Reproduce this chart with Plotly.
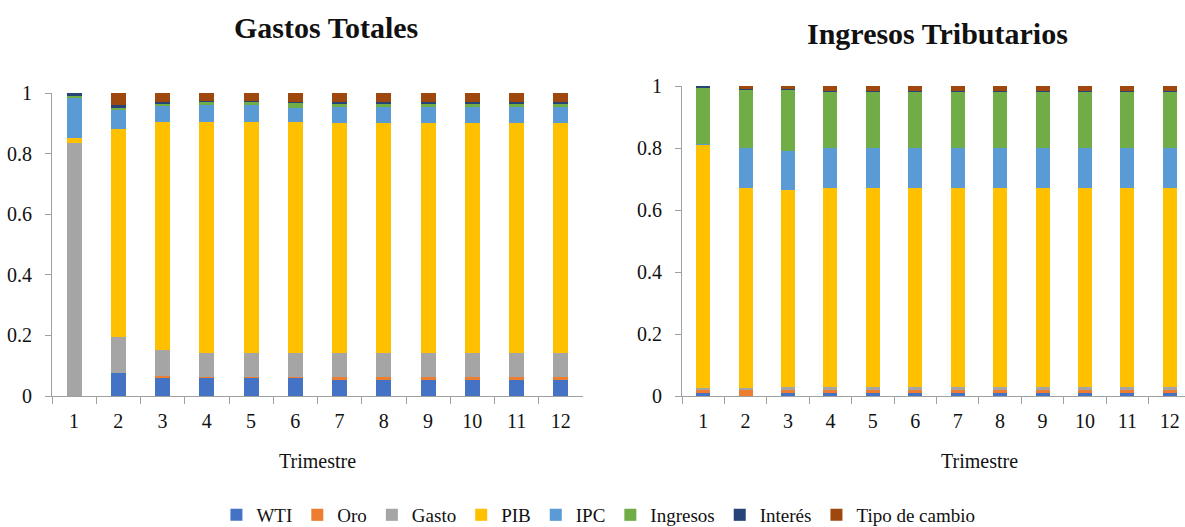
import plotly.graph_objects as go

W, H = 1185, 527

trimestres = [str(i) for i in range(1, 13)]
series_names = ["WTI", "Oro", "Gasto", "PIB", "IPC", "Ingresos", "Interés", "Tipo de cambio"]
colors = ["#4472C4", "#ED7D31", "#A5A5A5", "#FFC000", "#5B9BD5", "#70AD47", "#264478", "#9E480E"]

# Gastos Totales
g_wti      = [0.000, 0.075, 0.062, 0.062, 0.062, 0.062, 0.056, 0.056, 0.056, 0.056, 0.056, 0.056]
g_oro      = [0.000, 0.000, 0.005, 0.001, 0.001, 0.001, 0.006, 0.006, 0.006, 0.006, 0.006, 0.006]
g_gasto    = [0.834, 0.119, 0.085, 0.078, 0.078, 0.078, 0.079, 0.079, 0.079, 0.079, 0.079, 0.079]
g_pib      = [0.019, 0.687, 0.753, 0.764, 0.764, 0.764, 0.759, 0.759, 0.759, 0.759, 0.759, 0.759]
g_ipc      = [0.129, 0.065, 0.055, 0.055, 0.055, 0.047, 0.053, 0.053, 0.053, 0.053, 0.053, 0.053]
g_ingresos = [0.009, 0.006, 0.006, 0.011, 0.011, 0.018, 0.013, 0.013, 0.013, 0.013, 0.013, 0.013]
g_interes  = [0.009, 0.007, 0.005, 0.001, 0.001, 0.001, 0.005, 0.005, 0.005, 0.005, 0.005, 0.005]
g_tipo     = [0.000, 0.041, 0.029, 0.029, 0.029, 0.029, 0.029, 0.029, 0.029, 0.029, 0.029, 0.029]

# Ingresos Tributarios
i_wti      = [0.009, 0.001, 0.009, 0.009, 0.009, 0.009, 0.009, 0.009, 0.009, 0.009, 0.009, 0.009]
i_oro      = [0.010, 0.018, 0.010, 0.010, 0.010, 0.010, 0.010, 0.010, 0.010, 0.010, 0.010, 0.010]
i_gasto    = [0.008, 0.008, 0.011, 0.011, 0.011, 0.011, 0.011, 0.011, 0.011, 0.011, 0.011, 0.011]
i_pib      = [0.783, 0.643, 0.635, 0.640, 0.640, 0.640, 0.640, 0.640, 0.640, 0.640, 0.640, 0.640]
i_ipc      = [0.003, 0.129, 0.126, 0.129, 0.129, 0.129, 0.129, 0.129, 0.129, 0.129, 0.129, 0.129]
i_ingresos = [0.183, 0.190, 0.198, 0.184, 0.184, 0.184, 0.184, 0.184, 0.184, 0.184, 0.184, 0.184]
i_interes  = [0.004, 0.001, 0.001, 0.002, 0.002, 0.002, 0.002, 0.002, 0.002, 0.002, 0.002, 0.002]
i_tipo     = [0.000, 0.010, 0.010, 0.015, 0.015, 0.015, 0.015, 0.015, 0.015, 0.015, 0.015, 0.015]

y_ticks = [0, 0.2, 0.4, 0.6, 0.8, 1]
y_tick_labels = ["0", "0.2", "0.4", "0.6", "0.8", "1"]

gastos = [g_wti, g_oro, g_gasto, g_pib, g_ipc, g_ingresos, g_interes, g_tipo]
ingresos = [i_wti, i_oro, i_gasto, i_pib, i_ipc, i_ingresos, i_interes, i_tipo]

FONT = "'Liberation Serif', 'Times New Roman', serif"
AX = "#A0A0A0"

fig = go.Figure()
for name, col, vals in zip(series_names, colors, gastos):
    fig.add_trace(go.Bar(x=trimestres, y=vals, name=name, marker_color=col,
                         marker_line_width=0, width=0.34, xaxis="x", yaxis="y",
                         showlegend=True))
for name, col, vals in zip(series_names, colors, ingresos):
    fig.add_trace(go.Bar(x=trimestres, y=vals, name=name, marker_color=col,
                         marker_line_width=0, width=0.33, xaxis="x2", yaxis="y2",
                         showlegend=False))

def px_x(p):
    return p / W

def px_y(p):
    return 1 - p / H

common_x = dict(type="category", showline=True, linecolor=AX, linewidth=1,
                ticks="outside", ticklen=7, tickcolor=AX, tickson="boundaries",
                showgrid=False, zeroline=False, fixedrange=True, automargin=False,
                ticklabelstandoff=7,
                tickfont=dict(family=FONT, size=20, color="#111"))
common_y = dict(range=[0, 1], showline=True, linecolor=AX, linewidth=1,
                ticks="outside", ticklen=6, tickcolor=AX, showgrid=False,
                zeroline=False, tickvals=y_ticks, ticktext=y_tick_labels,
                ticklabelstandoff=9, automargin=False, fixedrange=True,
                tickfont=dict(family=FONT, size=20, color="#111"))

fig.update_layout(
    width=W, height=H,
    margin=dict(l=0, r=0, t=0, b=0, autoexpand=False),
    paper_bgcolor="white", plot_bgcolor="white",
    barmode="stack",
    font=dict(family=FONT, color="#111"),
    xaxis=dict(common_x, domain=[px_x(52), px_x(583)], anchor="y", range=[-0.5, 11.5]),
    yaxis=dict(common_y, domain=[px_y(396), px_y(93)], anchor="x"),
    xaxis2=dict(common_x, domain=[px_x(682), 1.0], anchor="y2", range=[-0.5, 11.36]),
    yaxis2=dict(common_y, domain=[px_y(396), px_y(86)], anchor="x2"),
    legend=dict(orientation="h", x=0.505, xanchor="center", y=px_y(515), yanchor="middle",
                font=dict(family=FONT, size=19, color="#111"), itemwidth=30,
                traceorder="normal", itemclick=False),
    annotations=[
        dict(text="<b>Gastos Totales</b>", x=px_x(326), y=px_y(28), xref="paper", yref="paper",
             showarrow=False, font=dict(family=FONT, size=30, color="#111"),
             xanchor="center", yanchor="middle"),
        dict(text="<b>Ingresos Tributarios</b>", x=px_x(937), y=px_y(33), xref="paper", yref="paper",
             showarrow=False, font=dict(family=FONT, size=30, color="#111"),
             xanchor="center", yanchor="middle"),
        dict(text="Trimestre", x=px_x(317), y=px_y(461), xref="paper", yref="paper",
             showarrow=False, font=dict(family=FONT, size=20, color="#111"),
             xanchor="center", yanchor="middle"),
        dict(text="Trimestre", x=px_x(979), y=px_y(461), xref="paper", yref="paper",
             showarrow=False, font=dict(family=FONT, size=20, color="#111"),
             xanchor="center", yanchor="middle"),
    ],
)

fig.write_html("out.html", config={"displayModeBar": False},
               post_script="document.body.style.margin='0px';document.body.style.overflow='hidden';")
